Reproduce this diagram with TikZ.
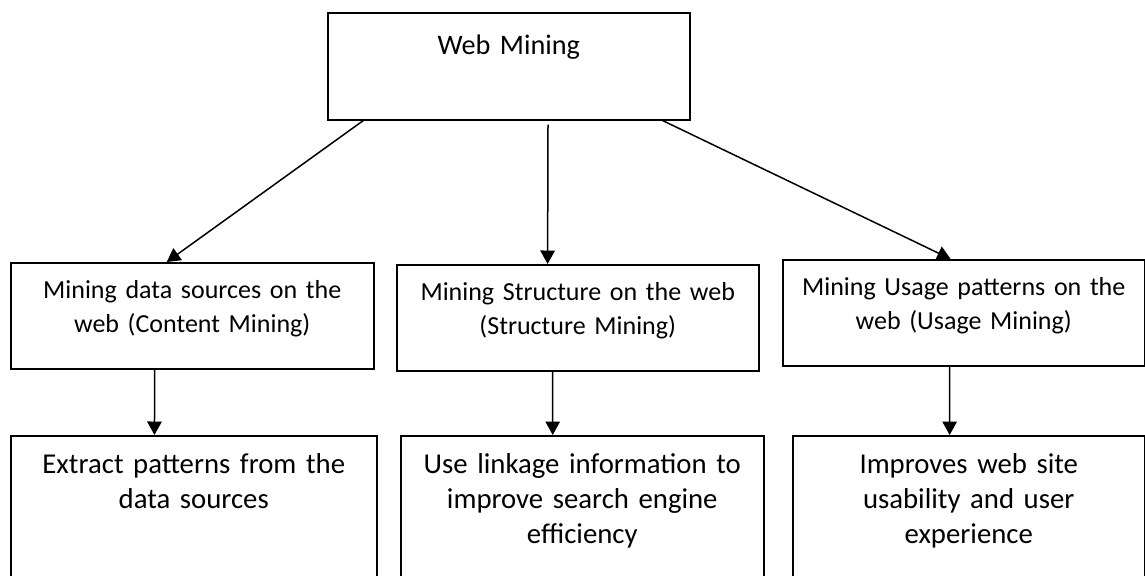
\documentclass[tikz,border=0pt]{standalone}
\usepackage{fontspec}
\setmainfont{Carlito}
\usepackage{tikz}
\usetikzlibrary{arrows.meta, calc}

\begin{document}
\begin{tikzpicture}[
  x=0.4pt, y=-0.4pt,
  box/.style={draw=black, line width=0.6pt, anchor=north west, align=center,
              inner xsep=0pt, inner ysep=0pt, text width=143pt},
  rootbox/.style={box, font=\fontsize{11.3}{14}\selectfont, text height=16.8pt, text depth=26pt},
  kindbox/.style={box, font=\fontsize{10.4}{13.6}\selectfont, text height=14.4pt, text depth=28pt},
  usebox/.style={box, font=\fontsize{11.5}{14}\selectfont, text height=15.2pt, text depth=70pt},
  arr/.style={-{Triangle[length=5.4pt, width=5.8pt]}, line width=0.6pt, color=black}
]
\useasboundingbox (0,0) rectangle (1145,575);

\node[rootbox, minimum width=144.8pt] (top) at (327,12) {Web Mining};

\node[kindbox, minimum width=145.2pt] (cont) at (10,262) {Mining data sources on the\\web (Content Mining)};
\node[kindbox, minimum width=144.8pt] (struc) at (396,264) {Mining Structure on the web\\(Structure Mining)};
\node[kindbox, minimum width=144.8pt] (usage) at (782,259) {Mining Usage patterns on the\\web (Usage Mining)};

\node[usebox, minimum width=146.4pt] (extr) at (10,435) {Extract patterns from the\\data sources};
\node[usebox, minimum width=145.2pt] (link) at (400,435) {Use linkage information to\\improve search engine\\efficiency};
\node[usebox, minimum width=140.8pt, text width=138pt] (impr) at (792,435) {Improves web site\\usability and user\\experience};

\draw[arr] ($(top.south west)!0.10!(top.south east)$) -- ($(cont.north west)!0.43!(cont.north east)$);
\draw[arr, shorten <=1.6pt] ($(top.south west)!0.608!(top.south east)$) -- ($(struc.north west)!0.417!(struc.north east)$);
\draw[arr] ($(top.south west)!0.923!(top.south east)$) -- ($(usage.north west)!0.464!(usage.north east)$);

\draw[arr] ($(cont.south west)!0.397!(cont.south east)$) -- ($(extr.north west)!0.393!(extr.north east)$);
\draw[arr] ($(struc.south west)!0.431!(struc.south east)$) -- ($(link.north west)!0.419!(link.north east)$);
\draw[arr] ($(usage.south west)!0.461!(usage.south east)$) -- ($(impr.north west)!0.446!(impr.north east)$);
\end{tikzpicture}
\end{document}
